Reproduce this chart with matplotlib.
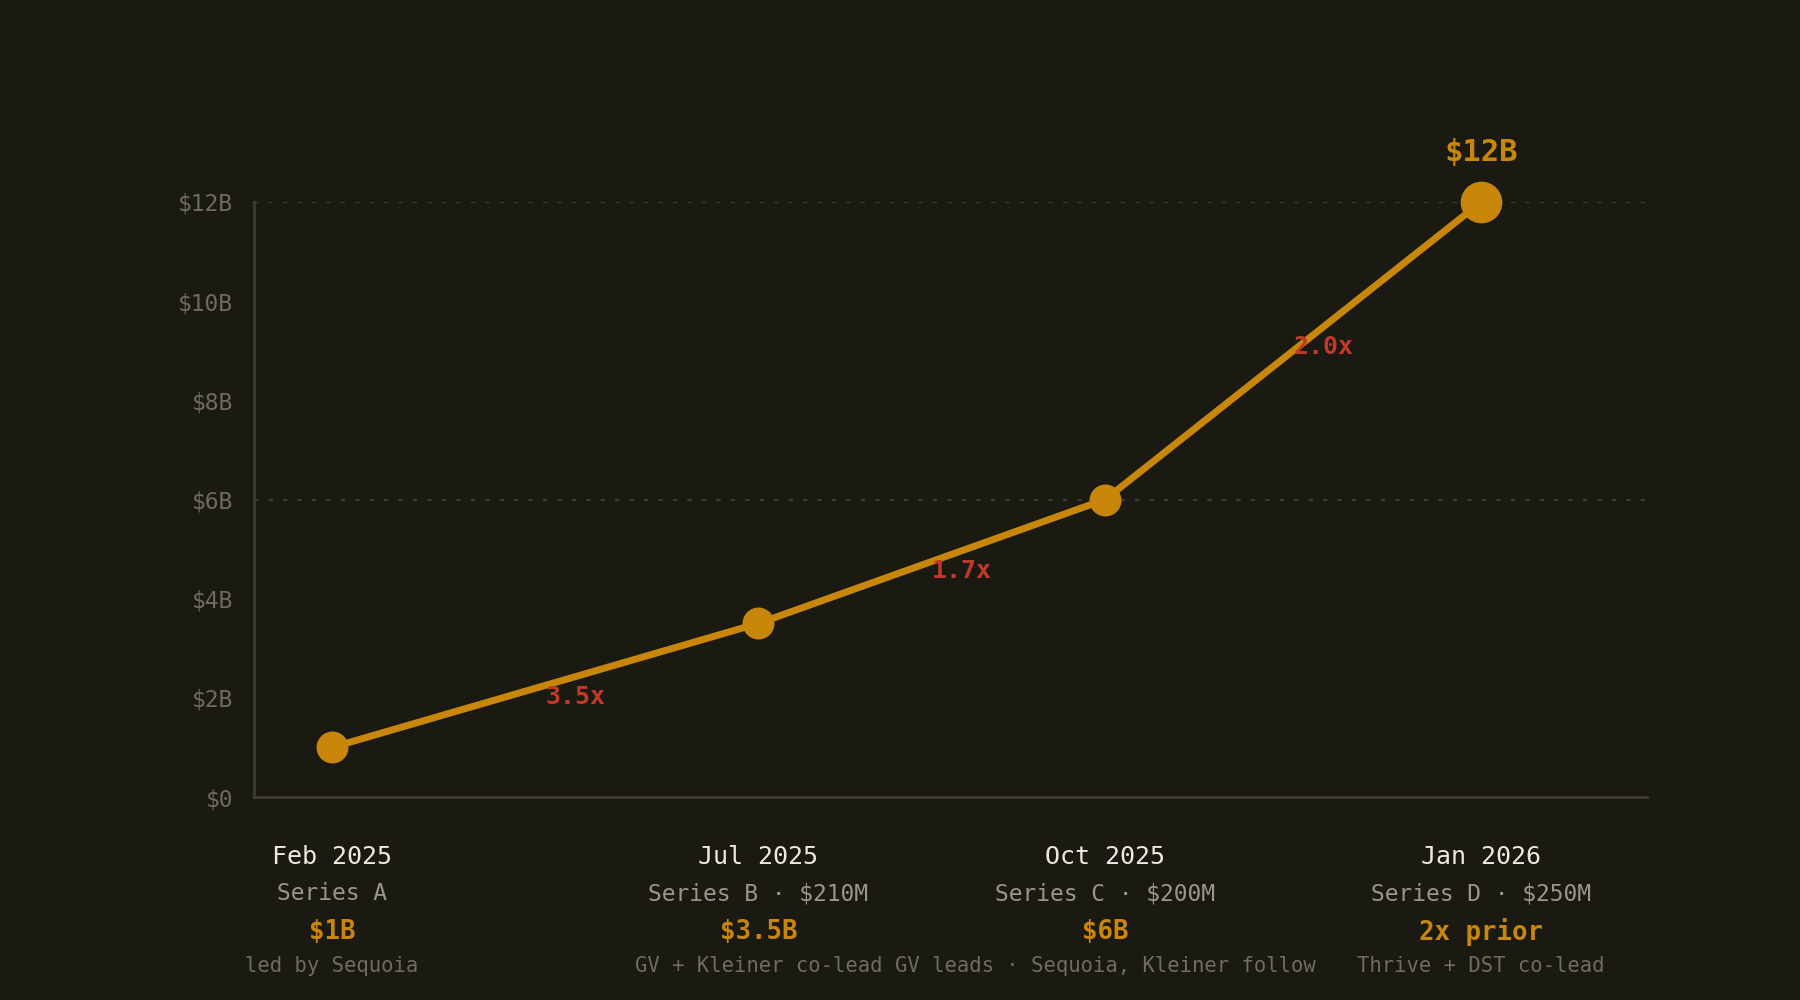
import matplotlib
matplotlib.use("Agg")
import matplotlib.pyplot as plt
from matplotlib.transforms import blended_transform_factory

# dados das rodadas
datas = ["Feb 2025", "Jul 2025", "Oct 2025", "Jan 2026"]
rodadas = ["Series A", "Series B · $210M", "Series C · $200M", "Series D · $250M"]
destaques = ["$1B", "$3.5B", "$6B", "2x prior"]
notas = ["led by Sequoia", "GV + Kleiner co-lead",
         "GV leads · Sequoia, Kleiner follow", "Thrive + DST co-lead"]
valuation = [1.0, 3.5, 6.0, 12.0]          # $B
linha_tempo = [5.6, 36.2, 61.1, 88.1]      # posição no eixo (0-100)
y_ticks = [0, 2, 4, 6, 8, 10, 12]
y_grid = [6, 12]

BG = "#1a1912"
LARANJA = "#c8860a"
VERMELHO = "#c0392b"
FONTE = "DejaVu Sans Mono"

plt.rcParams["font.family"] = [FONTE, "DejaVu Sans"]

fig = plt.figure(figsize=(18, 10), dpi=100, facecolor=BG)
ax = fig.add_axes([0.1411, 0.203, 0.7739, 0.595], facecolor=BG)

ax.set_xlim(0, 100)
ax.set_ylim(0, 12)

for g in y_grid:
    ax.axhline(g, color="#3d3b31", lw=1.6, ls=(0, (2, 4.5)), zorder=1)

ax.plot(linha_tempo, valuation, color=LARANJA, lw=5, zorder=3,
        solid_capstyle="round")
ax.plot(linha_tempo[:-1], valuation[:-1], "o", color=LARANJA, ms=22,
        zorder=4, clip_on=False)
ax.plot(linha_tempo[-1:], valuation[-1:], "o", color=LARANJA, ms=29,
        zorder=4, clip_on=False)

# multiplicadores entre rodadas (logo abaixo da linha, começando no meio do trecho)
for i in range(len(valuation) - 1):
    x0, x1 = linha_tempo[i], linha_tempo[i + 1]
    y0, y1 = valuation[i], valuation[i + 1]
    xm = (x0 + x1) / 2
    xr = xm + 2.15
    yl = y0 + (y1 - y0) * (xr - x0) / (x1 - x0)
    mult = y1 / y0
    ax.annotate(f"{mult:.1f}x", (xm, yl), xytext=(0, -14.5),
                textcoords="offset points", ha="left", va="center",
                color=VERMELHO, fontsize=18, fontweight="bold", zorder=5)

ax.annotate(f"${valuation[-1]:.0f}B", (linha_tempo[-1], valuation[-1]),
            xytext=(0, 36), textcoords="offset points", ha="center",
            va="center", color=LARANJA, fontsize=22, fontweight="bold",
            annotation_clip=False)

# eixos
for lado in ["top", "right"]:
    ax.spines[lado].set_visible(False)
ax.spines["left"].set_color("#3e3c30")
ax.spines["bottom"].set_color("#3e3c30")
ax.spines["left"].set_linewidth(2)
ax.spines["bottom"].set_linewidth(2)

ax.set_yticks(y_ticks)
ax.set_yticklabels([f"${v}B" if v else "$0" for v in y_ticks])
ax.tick_params(axis="y", length=0, pad=15, labelsize=16.5, labelcolor="#6e6c5f")
ax.set_xticks([])

# rótulos inferiores
trans = blended_transform_factory(ax.transData, fig.transFigure)
for x, d, r, v, n in zip(linha_tempo, datas, rodadas, destaques, notas):
    ax.text(x, 0.143, d, transform=trans, ha="center", va="center",
            color="#eee9dc", fontsize=18)
    ax.text(x, 0.106, r, transform=trans, ha="center", va="center",
            color="#9a978a", fontsize=16.5)
    ax.text(x, 0.068, v, transform=trans, ha="center", va="center",
            color=LARANJA, fontsize=18.5, fontweight="bold")
    ax.text(x, 0.034, n, transform=trans, ha="center", va="center",
            color="#6f6c60", fontsize=14.8)

fig.savefig("out.png", dpi=100, facecolor=BG)
